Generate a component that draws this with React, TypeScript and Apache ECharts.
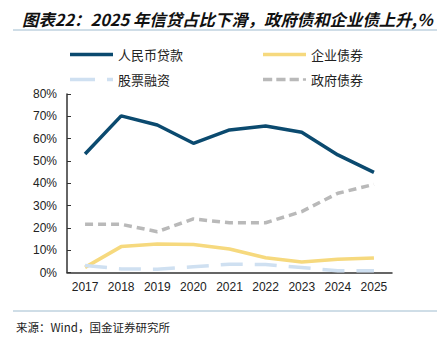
import React, { useEffect, useRef } from "react";
import * as echarts from "echarts";

const years = ["2017", "2018", "2019", "2020", "2021", "2022", "2023", "2024", "2025"];
const loans = [53.1, 70.2, 66.1, 57.9, 63.9, 65.7, 62.9, 52.7, 44.9];
const corpBonds = [2.3, 11.6, 12.8, 12.5, 10.5, 6.6, 4.7, 5.9, 6.5];
const equity = [3.1, 1.6, 1.5, 2.6, 3.7, 3.6, 2.2, 0.8, 0.8];
const govBonds = [21.6, 21.6, 18.3, 24.0, 22.3, 22.3, 27.3, 35.5, 39.5];
const yTicks = [0, 10, 20, 30, 40, 50, 60, 70, 80];

const C_LOAN = "#0b4a6f";
const C_CORP = "#f6d97e";
const C_EQ = "#cfe0f1";
const C_GOV = "#b9b9b9";

const ICON_SOLID = "path://M0,0h43v4h-43z";
const ICON_EQ = "path://M0,0h25v4h-25z M37,0h6v4h-6z";
const ICON_GOV = "path://M0,0h9v4h-9z M13,0h9v4h-9z M26,0h9v4h-9z M39,0.5h3v3h-3z";

export default function App() {
  const ref = useRef<HTMLDivElement>(null);
  useEffect(() => {
    if (!ref.current) return;
    const chart = echarts.init(ref.current, undefined, { renderer: "svg" });
    const legendText = { fontSize: 13, color: "#222", fontFamily: "Noto Sans CJK SC" };
    const mkLegend = (name: string, icon: string, left: number, top: number) => ({
      data: [{ name, icon }],
      left,
      top,
      itemWidth: 43,
      itemHeight: 3.5,
      itemGap: 5,
      symbolKeepAspect: false,
      itemStyle: { borderWidth: 0 },
      textStyle: legendText,
      selectedMode: false,
    });
    chart.setOption({
      animation: false,
      backgroundColor: "#fff",
      title: {
        text: "图表22：2025 年信贷占比下滑，政府债和企业债上升,%",
        left: 17,
        top: 6,
        textStyle: {
          fontSize: 16.4,
          fontStyle: "italic",
          fontWeight: "bold",
          color: "#111",
          fontFamily: "Noto Sans CJK SC",
        },
      },
      graphic: [
        { type: "line", shape: { x1: 13, y1: 30, x2: 437, y2: 30 }, style: { stroke: "#9fbccf", lineWidth: 1 } },
        { type: "line", shape: { x1: 13, y1: 311, x2: 437, y2: 311 }, style: { stroke: "#9fbccf", lineWidth: 1 } },
        {
          type: "text",
          x: 16,
          y: 327,
          style: {
            text: "来源：Wind，国金证券研究所",
            fontSize: 11.5,
            fill: "#222",
            fontFamily: "Noto Sans CJK SC",
            verticalAlign: "middle",
          },
        },
      ],
      legend: [
        mkLegend("人民币贷款", ICON_SOLID, 65, 43),
        mkLegend("企业债券", ICON_SOLID, 258, 43),
        mkLegend("股票融资", ICON_EQ, 65, 68),
        mkLegend("政府债券", ICON_GOV, 258, 68),
      ],
      grid: { left: 67, right: 45, top: 94, bottom: 67.5 },
      xAxis: {
        type: "category",
        data: years,
        boundaryGap: true,
        axisLine: { lineStyle: { color: "#333", width: 1.5 } },
        axisTick: { inside: true, length: 4, lineStyle: { color: "#333" } },
        axisLabel: { color: "#222", fontSize: 12, fontFamily: "Liberation Sans", margin: 8 },
      },
      yAxis: {
        type: "value",
        min: yTicks[0],
        max: yTicks[yTicks.length - 1],
        interval: 10,
        axisLine: { show: true, lineStyle: { color: "#333", width: 1.5 } },
        axisTick: { show: true, inside: true, length: 4, lineStyle: { color: "#333" } },
        splitLine: { show: false },
        axisLabel: {
          color: "#222",
          fontSize: 12,
          fontFamily: "Liberation Sans",
          margin: 10,
          formatter: (v: number) => `${v}%`,
        },
      },
      series: [
        {
          name: "人民币贷款",
          type: "line",
          data: loans,
          symbol: "none",
          lineStyle: { color: C_LOAN, width: 3.5 },
          itemStyle: { color: C_LOAN },
          z: 5,
        },
        {
          name: "企业债券",
          type: "line",
          data: corpBonds,
          symbol: "none",
          lineStyle: { color: C_CORP, width: 3.5 },
          itemStyle: { color: C_CORP },
        },
        {
          name: "股票融资",
          type: "line",
          data: equity,
          symbol: "none",
          lineStyle: { color: C_EQ, width: 3.5, type: [22, 12] },
          itemStyle: { color: C_EQ },
        },
        {
          name: "政府债券",
          type: "line",
          data: govBonds,
          symbol: "none",
          lineStyle: { color: C_GOV, width: 3.5, type: [8, 5] },
          itemStyle: { color: C_GOV },
        },
      ],
    });
    return () => chart.dispose();
  }, []);
  return <div ref={ref} style={{ width: 437, height: 340, position: "absolute", left: 0, top: 0 }} />;
}
